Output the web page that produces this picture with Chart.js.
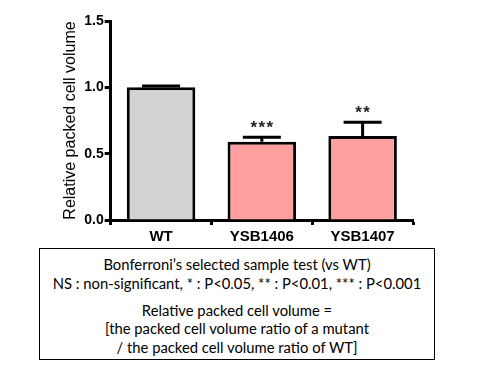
<!DOCTYPE html>
<html>
<head>
<meta charset="utf-8">
<script src="https://cdn.jsdelivr.net/npm/chart.js@4"></script>
<style>
  body { margin: 0; background: #fff; }
  #wrap { position: relative; width: 480px; height: 370px; }
  #chartBox { position: absolute; left: 0; top: 0; width: 480px; height: 248px; }
  #note {
    position: absolute; left: 39px; top: 248px; width: 396px; height: 112px;
    border: 1.5px solid #000; box-sizing: border-box;
    font-family: Lato, "Liberation Sans", sans-serif; font-size: 14.8px; color: #000;
  }
  #note div { position: absolute; left: 0; width: 100%; text-align: center; white-space: nowrap; line-height: 18px; }
</style>
</head>
<body>
<div id="wrap">
  <div id="chartBox"><canvas id="chart"></canvas></div>
  <div id="note">
    <div style="top:6px">Bonferroni’s selected sample test (vs WT)</div>
    <div style="top:25px">NS : non-significant, * : P&lt;0.05, ** : P&lt;0.01, *** : P&lt;0.001</div>
    <div style="top:52px">Relative packed cell volume =</div>
    <div style="top:70px">[the packed cell volume ratio of a mutant</div>
    <div style="top:89px">/ the packed cell volume ratio of WT]</div>
  </div>
</div>
<script>
// Dados do gráfico
const categories = ['WT', 'YSB1406', 'YSB1407'];
const values = [1.0, 0.59, 0.633];
const errors = [0.01, 0.033, 0.103];
const stars = ['', '***', '**'];
const barColors = ['#d3d3d3', '#ffa0a0', '#ffa0a0'];
const yTicks = [0, 0.5, 1.0, 1.5];

// Barras de erro (só para cima) e asteriscos
const errorBars = {
  id: 'errorBars',
  afterDatasetsDraw(chart) {
    const ctx = chart.ctx;
    const y = chart.scales.y;
    const meta = chart.getDatasetMeta(0);
    ctx.save();
    ctx.strokeStyle = '#000';
    ctx.lineWidth = 3;
    meta.data.forEach((bar, i) => {
      const yBar = y.getPixelForValue(values[i]);
      const yTop = y.getPixelForValue(values[i] + errors[i]);
      ctx.beginPath();
      ctx.moveTo(bar.x, yBar);
      ctx.lineTo(bar.x, yTop);
      ctx.moveTo(bar.x - 19, yTop);
      ctx.lineTo(bar.x + 19, yTop);
      ctx.stroke();
      if (stars[i]) {
        ctx.fillStyle = '#222';
        ctx.font = 'bold 17px Arial, "Liberation Sans"';
        ctx.textAlign = 'center';
        ctx.textBaseline = 'middle';
        ctx.fillText(stars[i].split('').join(' ').replace(/ /g, '\u200A'), bar.x, yTop - 9);
      }
    });
    ctx.restore();
  }
};

const ctx = document.getElementById('chart').getContext('2d');
const chart = new Chart(ctx, {
  type: 'bar',
  data: {
    labels: categories,
    datasets: [{
      data: values,
      backgroundColor: barColors,
      borderColor: '#000',
      borderWidth: 3,
      borderSkipped: 'bottom',
      barPercentage: 0.68,
      categoryPercentage: 1.0
    }]
  },
  options: {
    responsive: true,
    maintainAspectRatio: false,
    animation: false,
    layout: { padding: { left: 61, right: 67, top: 21, bottom: 0 } },
    plugins: { legend: { display: false }, tooltip: { enabled: false } },
    scales: {
      x: {
        grid: { drawOnChartArea: false, drawTicks: true, tickLength: 5, tickColor: '#000', tickWidth: 3 },
        border: { color: '#000', width: 3 },
        ticks: { color: '#000', font: { family: 'Arial, "Liberation Sans"', size: 15, weight: 'bold' }, padding: 3 },
        afterFit: (s) => { s.height = 28; }
      },
      y: {
        min: 0,
        max: 1.5,
        afterBuildTicks: (s) => { s.ticks = yTicks.map(v => ({ value: v })); },
        grid: { drawOnChartArea: false, drawTicks: true, tickLength: 6, tickColor: '#000', tickWidth: 3 },
        border: { color: '#000', width: 3 },
        ticks: {
          color: '#000',
          font: { family: 'Arial, "Liberation Sans"', size: 14, weight: 'bold' },
          padding: 1,
          callback: (v) => Number(v).toFixed(1)
        },
        title: {
          display: true,
          text: 'Relative packed cell volume',
          color: '#000',
          font: { family: 'Arial, "Liberation Sans"', size: 16 },
          padding: { top: 0, bottom: 3 }
        }
      }
    }
  },
  plugins: [errorBars]
});
</script>
</body>
</html>
